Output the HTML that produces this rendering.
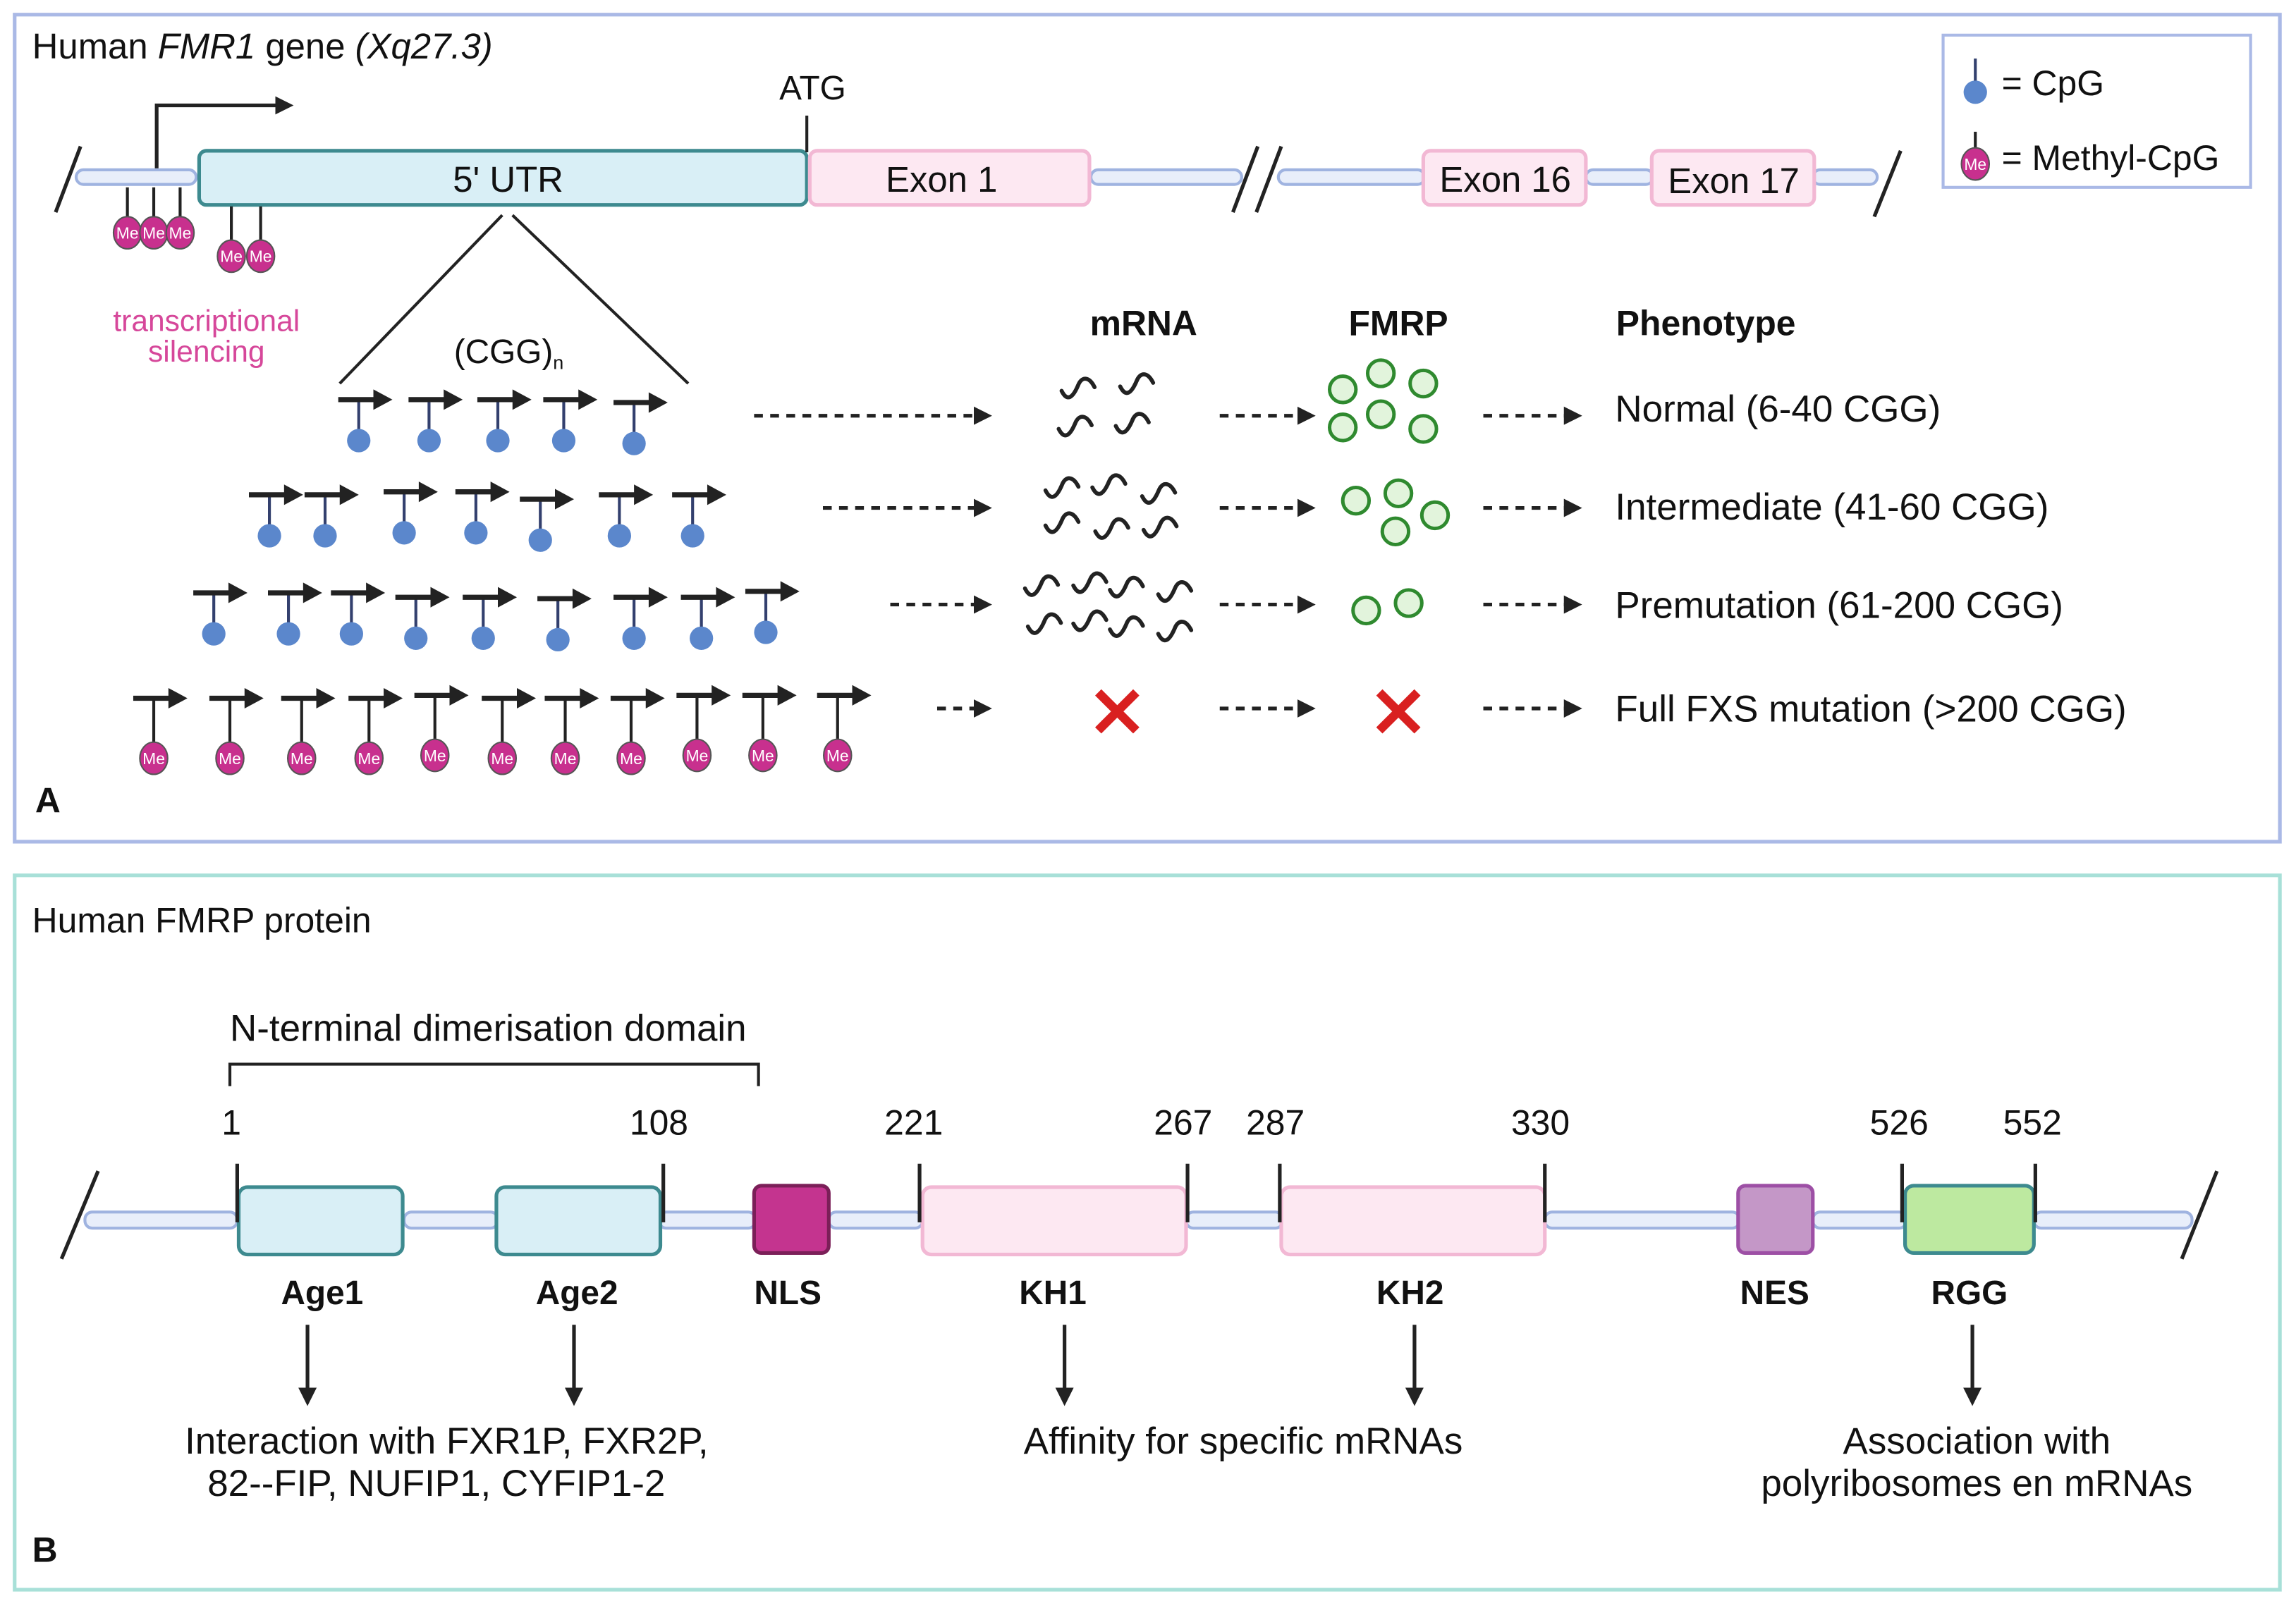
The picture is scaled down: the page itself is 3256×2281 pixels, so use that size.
<!DOCTYPE html>
<html><head><meta charset="utf-8"><style>
html,body{margin:0;padding:0;background:#fff}
svg{display:block}
text{font-family:"Liberation Sans",sans-serif;fill:#111}
</style></head><body>
<svg width="3256" height="2281" viewBox="0 0 1568 1098.5" preserveAspectRatio="none" xmlns="http://www.w3.org/2000/svg">
<defs>
<marker id="ah" viewBox="0 0 10 10" refX="8" refY="5" markerWidth="5" markerHeight="5" orient="auto"><path d="M0,0L10,5L0,10z" fill="#222"/></marker>
<g id="cpg"><line x1="0" y1="-10" x2="0" y2="12" stroke="#33406e" stroke-width="2"/><circle cx="0" cy="18" r="8" fill="#5b87cc"/><line x1="-14" y1="-10" x2="12" y2="-10" stroke="#222" stroke-width="3.5"/><path d="M10,-17L23,-10L10,-3z" fill="#222"/></g>
<g id="mcpg"><line x1="0" y1="-10" x2="0" y2="21" stroke="#222" stroke-width="2"/><ellipse cx="0" cy="31" rx="9.5" ry="11" fill="#c8308e" stroke="#555" stroke-width="1"/><text x="0" y="35" font-size="11" text-anchor="middle" style="fill:#fff">Me</text><line x1="-14" y1="-10" x2="12" y2="-10" stroke="#222" stroke-width="3.5"/><path d="M10,-17L23,-10L10,-3z" fill="#222"/></g>
<g id="me"><ellipse cx="0" cy="0" rx="9.5" ry="11" fill="#c8308e" stroke="#555" stroke-width="1"/><text x="0" y="4" font-size="11" text-anchor="middle" style="fill:#fff">Me</text></g>
<path id="sq0" d="M0,8 C3,14 6,12 9,5 C11,0 15,0 18,6" fill="none" stroke="#222" stroke-width="2.2" stroke-linecap="round"/>
<g id="sq"><use href="#sq0" transform="scale(1.25)"/></g>
<circle id="fc" r="9" fill="#e2f4dc" stroke="#2f8a2f" stroke-width="2.4"/>
<g id="x"><path d="M-13,-13L13,13M13,-13L-13,13" stroke="#d92020" stroke-width="6"/></g>
</defs>

<!-- Panel A -->
<rect x="10" y="10" width="1547" height="565" fill="none" stroke="#aab9e6" stroke-width="2.5"/>
<text x="22" y="40" font-size="24.5">Human <tspan font-style="italic">FMR1</tspan> gene <tspan font-style="italic">(Xq27.3)</tspan></text>

<rect x="1327" y="24" width="210" height="104" fill="#fff" stroke="#aab9e6" stroke-width="2"/>
<line x1="1349" y1="40" x2="1349" y2="58" stroke="#33406e" stroke-width="2"/><circle cx="1349" cy="63" r="8" fill="#5b87cc"/>
<text x="1367" y="65" font-size="24">= CpG</text>
<line x1="1349" y1="90" x2="1349" y2="102" stroke="#222" stroke-width="2"/><use href="#me" x="1349" y="112"/>
<text x="1367" y="116" font-size="24">= Methyl-CpG</text>

<!-- gene line -->
<g stroke="#9fb3e0" stroke-width="2" fill="#e8eefa">
<rect x="52" y="116" width="82" height="10" rx="5"/>
<rect x="745" y="116" width="103" height="10" rx="5"/>
<rect x="873" y="116" width="100" height="10" rx="5"/>
<rect x="1083" y="116" width="46" height="10" rx="5"/>
<rect x="1238" y="116" width="44" height="10" rx="5"/>
</g>
<g stroke="#222" stroke-width="2.5">
<line x1="38" y1="145" x2="55" y2="100"/>
<line x1="842" y1="145" x2="859" y2="100"/>
<line x1="858" y1="145" x2="875" y2="100"/>
<line x1="1280" y1="148" x2="1298" y2="103"/>
</g>
<rect x="136" y="103" width="415" height="37" rx="5" fill="#d9eff6" stroke="#3d8a8f" stroke-width="2.5"/>
<text x="347" y="131" font-size="24.5" text-anchor="middle">5' UTR</text>
<g fill="#fde8f2" stroke="#f2b8d4" stroke-width="2.5">
<rect x="553" y="103" width="191" height="37" rx="5"/>
<rect x="972" y="103" width="111" height="37" rx="5"/>
<rect x="1128" y="103" width="111" height="37" rx="5"/>
</g>
<text x="643" y="131" font-size="24.5" text-anchor="middle">Exon 1</text>
<text x="1028" y="131" font-size="24.5" text-anchor="middle">Exon 16</text>
<text x="1184" y="132" font-size="24.5" text-anchor="middle">Exon 17</text>
<path d="M107,115 V72 H198" fill="none" stroke="#222" stroke-width="2.5" marker-end="url(#ah)"/>
<line x1="551" y1="79" x2="551" y2="104" stroke="#222" stroke-width="2"/>
<text x="555" y="68" font-size="23" text-anchor="middle">ATG</text>

<g stroke="#222" stroke-width="2">
<line x1="87" y1="128" x2="87" y2="150"/><line x1="105" y1="128" x2="105" y2="150"/><line x1="123" y1="128" x2="123" y2="150"/>
<line x1="158" y1="141" x2="158" y2="166"/><line x1="178" y1="141" x2="178" y2="166"/>
</g>
<use href="#me" x="87" y="159"/><use href="#me" x="105" y="159"/><use href="#me" x="123" y="159"/>
<use href="#me" x="158" y="175"/><use href="#me" x="178" y="175"/>
<text x="141" y="226" font-size="20.5" text-anchor="middle" style="fill:#d6479a">transcriptional</text>
<text x="141" y="247" font-size="20.5" text-anchor="middle" style="fill:#d6479a">silencing</text>

<line x1="343" y1="147" x2="232" y2="262" stroke="#222" stroke-width="2"/>
<line x1="350" y1="147" x2="470" y2="262" stroke="#222" stroke-width="2"/>
<text x="310" y="248" font-size="23">(CGG)<tspan font-size="13" dy="4">n</tspan></text>

<!-- rows -->
<use href="#cpg" x="245" y="283"/><use href="#cpg" x="293" y="283"/><use href="#cpg" x="340" y="283"/><use href="#cpg" x="385" y="283"/><use href="#cpg" x="433" y="285"/>
<use href="#cpg" x="184" y="348"/><use href="#cpg" x="222" y="348"/><use href="#cpg" x="276" y="346"/><use href="#cpg" x="325" y="346"/><use href="#cpg" x="369" y="351"/><use href="#cpg" x="423" y="348"/><use href="#cpg" x="473" y="348"/>
<use href="#cpg" x="146" y="415"/><use href="#cpg" x="197" y="415"/><use href="#cpg" x="240" y="415"/><use href="#cpg" x="284" y="418"/><use href="#cpg" x="330" y="418"/><use href="#cpg" x="381" y="419"/><use href="#cpg" x="433" y="418"/><use href="#cpg" x="479" y="418"/><use href="#cpg" x="523" y="414"/>
<use href="#mcpg" x="105" y="487"/><use href="#mcpg" x="157" y="487"/><use href="#mcpg" x="206" y="487"/><use href="#mcpg" x="252" y="487"/><use href="#mcpg" x="297" y="485"/><use href="#mcpg" x="343" y="487"/><use href="#mcpg" x="386" y="487"/><use href="#mcpg" x="431" y="487"/><use href="#mcpg" x="476" y="485"/><use href="#mcpg" x="521" y="485"/><use href="#mcpg" x="572" y="485"/>

<g stroke="#222" stroke-width="2.5" stroke-dasharray="6,5" fill="none" marker-end="url(#ah)">
<line x1="515" y1="284" x2="675" y2="284"/>
<line x1="562" y1="347" x2="675" y2="347"/>
<line x1="608" y1="413" x2="675" y2="413"/>
<line x1="640" y1="484" x2="675" y2="484"/>
<line x1="833" y1="284" x2="896" y2="284"/>
<line x1="833" y1="347" x2="896" y2="347"/>
<line x1="833" y1="413" x2="896" y2="413"/>
<line x1="833" y1="484" x2="896" y2="484"/>
<line x1="1013" y1="284" x2="1078" y2="284"/>
<line x1="1013" y1="347" x2="1078" y2="347"/>
<line x1="1013" y1="413" x2="1078" y2="413"/>
<line x1="1013" y1="484" x2="1078" y2="484"/>
</g>

<text x="781" y="229" font-size="24" font-weight="bold" text-anchor="middle">mRNA</text>
<text x="955" y="229" font-size="24" font-weight="bold" text-anchor="middle">FMRP</text>
<text x="1165" y="229" font-size="24" font-weight="bold" text-anchor="middle">Phenotype</text>

<use href="#sq" x="725" y="257"/><use href="#sq" x="765" y="254"/><use href="#sq" x="723" y="283"/><use href="#sq" x="762" y="281"/>
<use href="#sq" x="714" y="325"/><use href="#sq" x="746" y="323"/><use href="#sq" x="780" y="329"/><use href="#sq" x="714" y="349"/><use href="#sq" x="748" y="353"/><use href="#sq" x="781" y="352"/>
<use href="#sq" x="700" y="392"/><use href="#sq" x="733" y="390"/><use href="#sq" x="758" y="393"/><use href="#sq" x="791" y="396"/><use href="#sq" x="702" y="418"/><use href="#sq" x="733" y="416"/><use href="#sq" x="758" y="420"/><use href="#sq" x="791" y="423"/>

<use href="#fc" x="917" y="266"/><use href="#fc" x="943" y="255"/><use href="#fc" x="972" y="262"/><use href="#fc" x="917" y="292"/><use href="#fc" x="943" y="283"/><use href="#fc" x="972" y="293"/>
<use href="#fc" x="926" y="342"/><use href="#fc" x="955" y="337"/><use href="#fc" x="980" y="352"/><use href="#fc" x="953" y="363"/>
<use href="#fc" x="933" y="417"/><use href="#fc" x="962" y="412"/>
<use href="#x" x="763" y="486"/><use href="#x" x="955" y="486"/>

<text x="1103" y="288" font-size="25.5">Normal (6-40 CGG)</text>
<text x="1103" y="355" font-size="25.5">Intermediate (41-60 CGG)</text>
<text x="1103" y="422" font-size="25.5">Premutation (61-200 CGG)</text>
<text x="1103" y="493" font-size="25.5">Full FXS mutation (&gt;200 CGG)</text>
<text x="24" y="555" font-size="24" font-weight="bold">A</text>

<!-- Panel B -->
<rect x="10" y="598" width="1547" height="488" fill="none" stroke="#a8e0d8" stroke-width="2.5"/>
<text x="22" y="637" font-size="24">Human FMRP protein</text>
<text x="157" y="711" font-size="25.5">N-terminal dimerisation domain</text>
<path d="M157,742 V727 H518 V742" fill="none" stroke="#222" stroke-width="2"/>
<g font-size="24" text-anchor="middle">
<text x="158" y="775">1</text><text x="450" y="775">108</text><text x="624" y="775">221</text><text x="808" y="775">267</text>
<text x="871" y="775">287</text><text x="1052" y="775">330</text><text x="1297" y="775">526</text><text x="1388" y="775">552</text>
</g>
<g stroke="#9fb3e0" stroke-width="2" fill="#e8eefa">
<rect x="58" y="828" width="104" height="11" rx="5"/>
<rect x="276" y="828" width="64" height="11" rx="5"/>
<rect x="450" y="828" width="66" height="11" rx="5"/>
<rect x="566" y="828" width="64" height="11" rx="5"/>
<rect x="810" y="828" width="66" height="11" rx="5"/>
<rect x="1055" y="828" width="133" height="11" rx="5"/>
<rect x="1238" y="828" width="64" height="11" rx="5"/>
<rect x="1389" y="828" width="108" height="11" rx="5"/>
</g>
<g stroke="#222" stroke-width="2.5">
<line x1="42" y1="860" x2="67" y2="800"/><line x1="1490" y1="860" x2="1514" y2="800"/>
</g>
<rect x="163" y="811" width="112" height="46" rx="6" fill="#d9eff6" stroke="#3d8a8f" stroke-width="2.5"/>
<rect x="339" y="811" width="112" height="46" rx="6" fill="#d9eff6" stroke="#3d8a8f" stroke-width="2.5"/>
<rect x="515" y="810" width="51" height="46" rx="5" fill="#c4348f" stroke="#7b1f58" stroke-width="2.5"/>
<rect x="630" y="811" width="180" height="46" rx="6" fill="#fde8f2" stroke="#f2b8d4" stroke-width="2.5"/>
<rect x="875" y="811" width="180" height="46" rx="6" fill="#fde8f2" stroke="#f2b8d4" stroke-width="2.5"/>
<rect x="1187" y="810" width="51" height="46" rx="5" fill="#c497c7" stroke="#9d4fa5" stroke-width="2.5"/>
<rect x="1301" y="810" width="88" height="46" rx="6" fill="#bde9a0" stroke="#3d8a8f" stroke-width="2.5"/>
<g stroke="#222" stroke-width="2.5">
<line x1="162" y1="795" x2="162" y2="835"/><line x1="453" y1="795" x2="453" y2="835"/><line x1="628" y1="795" x2="628" y2="835"/><line x1="811" y1="795" x2="811" y2="835"/>
<line x1="874" y1="795" x2="874" y2="835"/><line x1="1055" y1="795" x2="1055" y2="835"/><line x1="1299" y1="795" x2="1299" y2="835"/><line x1="1390" y1="795" x2="1390" y2="835"/>
</g>
<g font-size="23" font-weight="bold" text-anchor="middle">
<text x="220" y="891">Age1</text><text x="394" y="891">Age2</text><text x="538" y="891">NLS</text><text x="719" y="891">KH1</text>
<text x="963" y="891">KH2</text><text x="1212" y="891">NES</text><text x="1345" y="891">RGG</text>
</g>
<g stroke="#222" stroke-width="2.5" marker-end="url(#ah)">
<line x1="210" y1="905" x2="210" y2="958"/><line x1="392" y1="905" x2="392" y2="958"/><line x1="727" y1="905" x2="727" y2="958"/>
<line x1="966" y1="905" x2="966" y2="958"/><line x1="1347" y1="905" x2="1347" y2="958"/>
</g>
<g font-size="25.5" text-anchor="middle">
<text x="305" y="993">Interaction with FXR1P, FXR2P,</text>
<text x="298" y="1022">82--FIP, NUFIP1, CYFIP1-2</text>
<text x="849" y="993">Affinity for specific mRNAs</text>
<text x="1350" y="993">Association with</text>
<text x="1350" y="1022">polyribosomes en mRNAs</text>
</g>
<text x="22" y="1067" font-size="24" font-weight="bold">B</text>
</svg>
</body></html>
